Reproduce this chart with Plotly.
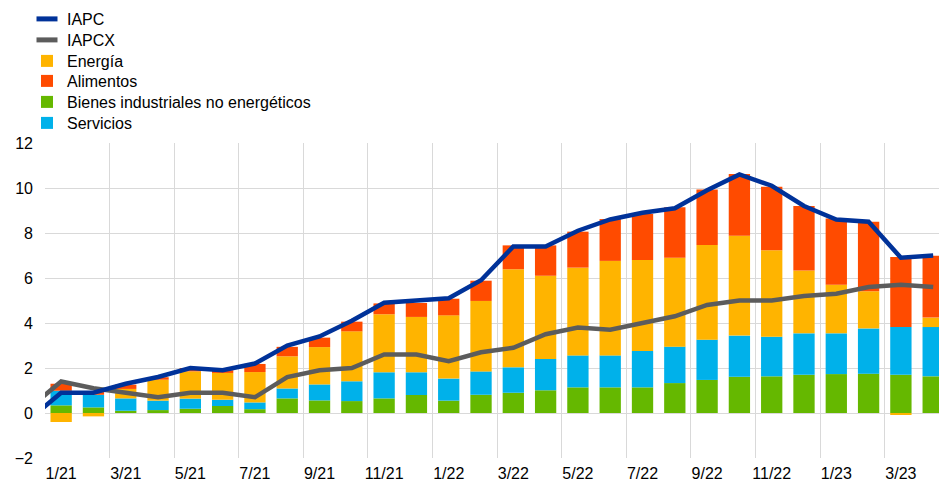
import plotly.graph_objects as go

# Month labels (Jan 2021 .. Apr 2023)
months = ["1/21","2/21","3/21","4/21","5/21","6/21","7/21","8/21","9/21","10/21","11/21","12/21",
          "1/22","2/22","3/22","4/22","5/22","6/22","7/22","8/22","9/22","10/22","11/22","12/22",
          "1/23","2/23","3/23","4/23"]
tick_labels = ["1/21","3/21","5/21","7/21","9/21","11/21","1/22","3/22","5/22","7/22","9/22","11/22","1/23","3/23"]

# Lines start one month earlier (12/20), partly outside the visible area
iapc  = [-0.3, 0.9, 0.9, 1.3, 1.6, 2.0, 1.9, 2.2, 3.0, 3.4, 4.1, 4.9, 5.0,
         5.1, 5.9, 7.4, 7.4, 8.1, 8.6, 8.9, 9.1, 9.9, 10.6, 10.1, 9.2,
         8.6, 8.5, 6.9, 7.0]
iapcx = [0.2, 1.4, 1.1, 0.9, 0.7, 0.9, 0.9, 0.7, 1.6, 1.9, 2.0, 2.6, 2.6,
         2.3, 2.7, 2.9, 3.5, 3.8, 3.7, 4.0, 4.3, 4.8, 5.0, 5.0, 5.2,
         5.3, 5.6, 5.7, 5.6]

# Contributions (percentage points)
bienes    = [0.34, 0.25, 0.10, 0.13, 0.19, 0.31, 0.17, 0.65, 0.56, 0.53, 0.65, 0.80,
             0.55, 0.81, 0.90, 1.01, 1.14, 1.14, 1.14, 1.33, 1.47, 1.61, 1.63, 1.70,
             1.73, 1.75, 1.70, 1.63]
servicios = [0.65, 0.56, 0.55, 0.42, 0.45, 0.28, 0.30, 0.44, 0.71, 0.88, 1.16, 1.01,
             0.98, 1.04, 1.13, 1.39, 1.42, 1.42, 1.62, 1.62, 1.79, 1.83, 1.76, 1.84,
             1.81, 2.01, 2.12, 2.19]
energia   = [-0.40, -0.15, 0.42, 0.93, 1.21, 1.19, 1.35, 1.43, 1.66, 2.22, 2.58, 2.46,
             2.81, 3.13, 4.36, 3.70, 3.90, 4.20, 4.04, 3.95, 4.21, 4.44, 3.84, 2.79,
             2.16, 1.65, -0.05, 0.42]
alimentos = [0.31, 0.12, 0.19, 0.11, 0.15, 0.12, 0.36, 0.42, 0.42, 0.43, 0.48, 0.62,
             0.74, 0.90, 1.06, 1.35, 1.60, 1.86, 2.04, 2.24, 2.46, 2.74, 2.83, 2.87,
             2.95, 3.09, 3.11, 2.75]

bar_x = list(range(len(months)))
line_x = list(range(-1, len(months)))

C_IAPC = "#003299"
C_IAPCX = "#5c5c5c"
C_EN = "#ffb400"
C_AL = "#ff4b00"
C_BI = "#65b800"
C_SE = "#00b1ea"

FAM = "Arial, Liberation Sans, sans-serif"
ytick_font = dict(family=FAM, size=16, color="#000000")
xtick_font = dict(family=FAM, size=16, color="#000000")
leg_font = dict(family=FAM, size=16, color="#000000")

W, H = 939, 483
ML, MT, MB = 45, 143, 25
PW, PH = W - ML, H - MT - MB

# one legend per entry so the row spacing matches the original
leg_ids = ["legend", "legend2", "legend3", "legend4", "legend5", "legend6"]
row_centers_px = [19, 40, 61, 81, 102, 123]

fig = go.Figure()
fig.add_trace(go.Bar(x=bar_x, y=bienes, name="Bienes industriales no energéticos",
                     marker=dict(color=C_BI, line=dict(width=0)), legend=leg_ids[4]))
fig.add_trace(go.Bar(x=bar_x, y=servicios, name="Servicios",
                     marker=dict(color=C_SE, line=dict(width=0)), legend=leg_ids[5]))
fig.add_trace(go.Bar(x=bar_x, y=energia, name="Energía",
                     marker=dict(color=C_EN, line=dict(width=0)), legend=leg_ids[2]))
fig.add_trace(go.Bar(x=bar_x, y=alimentos, name="Alimentos",
                     marker=dict(color=C_AL, line=dict(width=0)), legend=leg_ids[3]))
fig.add_trace(go.Scatter(x=line_x, y=iapcx, name="IAPCX", mode="lines", showlegend=False,
                         line=dict(color=C_IAPCX, width=4.5)))
fig.add_trace(go.Scatter(x=line_x, y=iapc, name="IAPC", mode="lines", showlegend=False,
                         line=dict(color=C_IAPC, width=4.5)))
# legend-only entries with short thick line symbols
for nm, col, lg in [("IAPC", C_IAPC, leg_ids[0]), ("IAPCX", C_IAPCX, leg_ids[1])]:
    fig.add_trace(go.Scatter(x=[None], y=[None], name=nm, mode="markers", legend=lg,
                             marker=dict(symbol="line-ew", size=15,
                                         line=dict(width=5, color=col))))

leg_x = (27 - ML) / PW
legends = {}
for lid, yc in zip(leg_ids, row_centers_px):
    top_px = yc - 17
    legends[lid] = dict(x=leg_x, y=1 + (MT - top_px) / PH, xanchor="left", yanchor="top",
                        font=leg_font, bgcolor="rgba(0,0,0,0)")

fig.update_layout(
    width=W, height=H,
    margin=dict(l=ML, r=0, t=MT, b=MB, autoexpand=False),
    barmode="relative", bargap=0.34,
    plot_bgcolor="white", paper_bgcolor="white",
    font=ytick_font,
    showlegend=True,
    xaxis=dict(range=[-0.5, 27.18], tickmode="array", tickvals=list(range(0, 28, 2)),
               ticktext=tick_labels, showgrid=False, zeroline=False, showline=False,
               ticks="", tickfont=xtick_font, automargin=False, ticklabelstandoff=4,
               minor=dict(tick0=-0.5, dtick=2, showgrid=True, gridcolor="#d9d9d9",
                          gridwidth=1, ticks="")),
    yaxis=dict(range=[-2, 12], tickmode="array", tickvals=list(range(-2, 13, 2)),
               showgrid=True, gridcolor="#d9d9d9", gridwidth=1, zeroline=False,
               showline=False, ticks="", tickfont=ytick_font, automargin=False,
               ticklabelstandoff=11),
    **legends,
)

fig.write_html("out.html", config={"displayModeBar": False},
               post_script="document.body.style.margin='0';document.body.style.overflow='hidden';")
